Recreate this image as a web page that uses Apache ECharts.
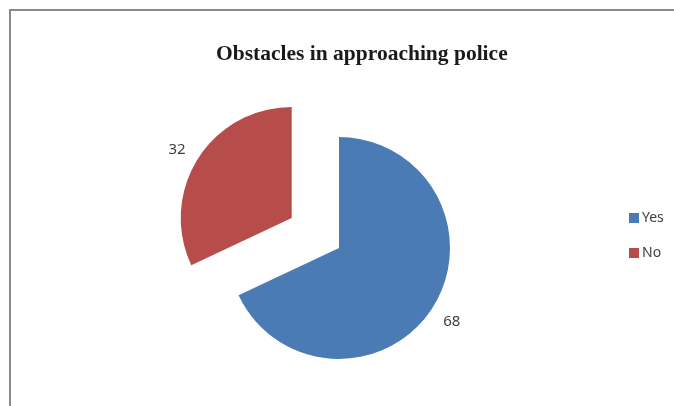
<!DOCTYPE html>
<html>
<head>
<meta charset="utf-8">
<script src="https://cdn.jsdelivr.net/npm/echarts@6/dist/echarts.min.js"></script>
<style>html,body{margin:0;padding:0;background:#fff;}#c{width:674px;height:406px;}</style>
</head>
<body>
<div id="c"></div>
<script>
const categories = ["Yes", "No"];
const values = [68, 32];
const colors = ["#4a7bb5", "#b64d4a"];
const titleText = "Obstacles in approaching police";

const chart = echarts.init(document.getElementById('c'), null, {renderer: 'canvas'});
const data = categories.map((c, i) => ({
  name: c,
  value: values[i],
  selected: c === "No",
  itemStyle: {color: colors[i]}
}));
chart.setOption({
  animation: false,
  backgroundColor: '#fff',
  graphic: [{
    type: 'rect',
    shape: {x: 10, y: 10, width: 700, height: 500},
    style: {fill: 'none', stroke: '#8a8a8a', lineWidth: 2},
    z: 0
  }],
  title: {
    text: titleText,
    left: 211,
    top: 38,
    textStyle: {fontFamily: 'Liberation Serif', fontWeight: 'bold', fontSize: 21.5, color: '#1a1a1a'}
  },
  legend: {
    orient: 'vertical',
    left: 624,
    top: 206,
    itemWidth: 10,
    itemHeight: 10,
    itemGap: 21,
    icon: 'rect',
    data: categories,
    textStyle: {fontFamily: 'Noto Sans', fontSize: 14, color: '#404040', padding: [0, 0, 0, -2]}
  },
  series: [{
    type: 'pie',
    center: [339, 248],
    radius: 111,
    startAngle: 90,
    clockwise: true,
    selectedMode: 'single',
    selectedOffset: 56,
    data: data,
    label: {
      show: true,
      position: 'outside',
      formatter: '{c}',
      fontFamily: 'Noto Sans',
      fontSize: 15,
      color: '#404040'
    },
    labelLine: {show: false, length: 10, length2: 4},
    labelLayout: function (p) {
      return p.dataIndex === 0 ? {dx: -7, dy: 9} : {dx: 5, dy: -3};
    },
    emphasis: {disabled: true}
  }]
});
</script>
</body>
</html>
